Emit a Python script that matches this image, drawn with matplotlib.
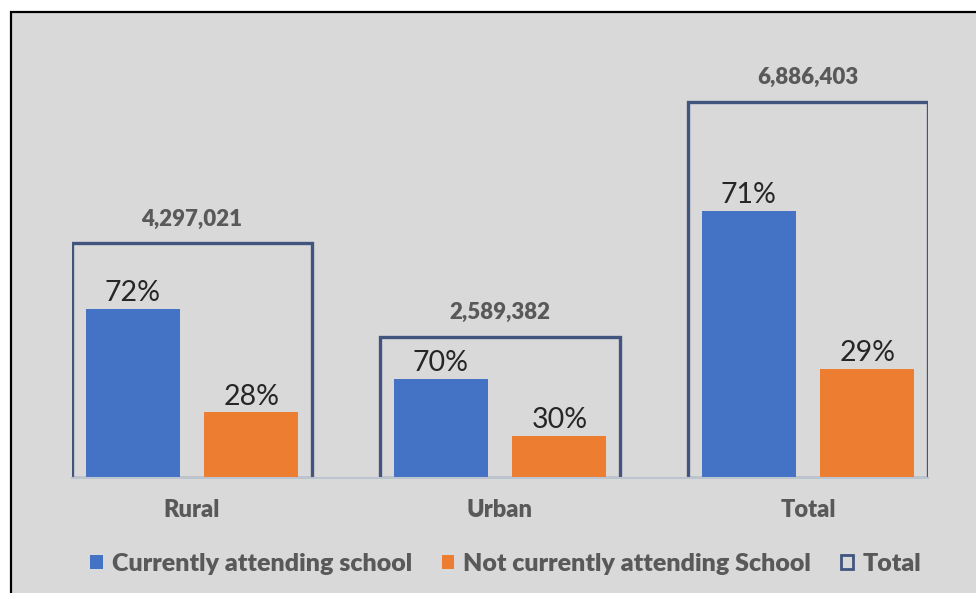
import matplotlib.pyplot as plt
from matplotlib.patches import Patch, Rectangle

# School attendance by area of residence
categories = ['Rural', 'Urban', 'Total']
totals = [4297021, 2589382, 6886403]
pct_attending = [72, 70, 71]
pct_not_attending = [28, 30, 29]

attending = [t * p / 100 for t, p in zip(totals, pct_attending)]
not_attending = [t * p / 100 for t, p in zip(totals, pct_not_attending)]

BLUE = '#4472c4'
ORANGE = '#ed7d31'
OUTLINE = '#41557f'
GREY_TXT = '#595959'

plt.rcParams['font.family'] = ['Lato', 'DejaVu Sans']

fig = plt.figure(figsize=(9.76, 5.93), dpi=100, facecolor='white')

# grey panel with a black frame
fig.patches.append(Rectangle((11 / 976, -0.02), 1.0, 1 - 12 / 593 + 0.02,
                             transform=fig.transFigure, facecolor='#d9d9d9',
                             edgecolor='black', linewidth=1.6, zorder=-5))

ax = fig.add_axes([72 / 976, 115 / 593, 856 / 976, 438 / 593])
ax.set_facecolor('none')

x = list(range(len(categories)))
offset = 0.193
bw = 0.305

ax.bar(x, totals, width=0.779, fill=False, edgecolor=OUTLINE, linewidth=2.4, zorder=2)
ax.bar([i - offset for i in x], attending, width=bw, color=BLUE, zorder=3)
ax.bar([i + offset for i in x], not_attending, width=bw, color=ORANGE, zorder=3)

for i in x:
    ax.annotate(f'{totals[i]:,}', (i, totals[i]), xytext=(0, 10), textcoords='offset points',
                ha='center', va='bottom', fontsize=16, fontweight='heavy', color=GREY_TXT)
    ax.annotate(f'{pct_attending[i]}%', (i - offset, attending[i]), xytext=(0, 2),
                textcoords='offset points', ha='center', va='bottom', fontsize=20.5, color='#262626')
    ax.annotate(f'{pct_not_attending[i]}%', (i + offset, not_attending[i]), xytext=(0, 2),
                textcoords='offset points', ha='center', va='bottom', fontsize=20.5, color='#262626')

ax.set_xlim(-0.3896, 2.3896)
ax.set_ylim(0, 8.02e6)
ax.set_xticks(x)
ax.set_xticklabels(categories, fontsize=17, fontweight='heavy', color=GREY_TXT)
ax.tick_params(axis='x', length=0, pad=15)
ax.set_yticks([])
for side in ['top', 'left', 'right']:
    ax.spines[side].set_visible(False)
ax.spines['bottom'].set_color('#bcc4cf')
ax.spines['bottom'].set_linewidth(1.5)
ax.spines['bottom'].set_zorder(4)

handles = [Patch(facecolor=BLUE),
           Patch(facecolor=ORANGE),
           Patch(facecolor='none', edgecolor=OUTLINE, linewidth=2)]
labels = ['Currently attending school', 'Not currently attending School', 'Total']
fig.legend(handles, labels, loc='center', bbox_to_anchor=(0.518, 1 - 564 / 593), ncol=3,
           frameon=False, handlelength=0.5, handleheight=0.5, handletextpad=0.35,
           columnspacing=1.2, prop={'size': 18, 'weight': 'heavy'}, labelcolor=GREY_TXT)

fig.savefig('out.png', dpi=100, facecolor='white')
